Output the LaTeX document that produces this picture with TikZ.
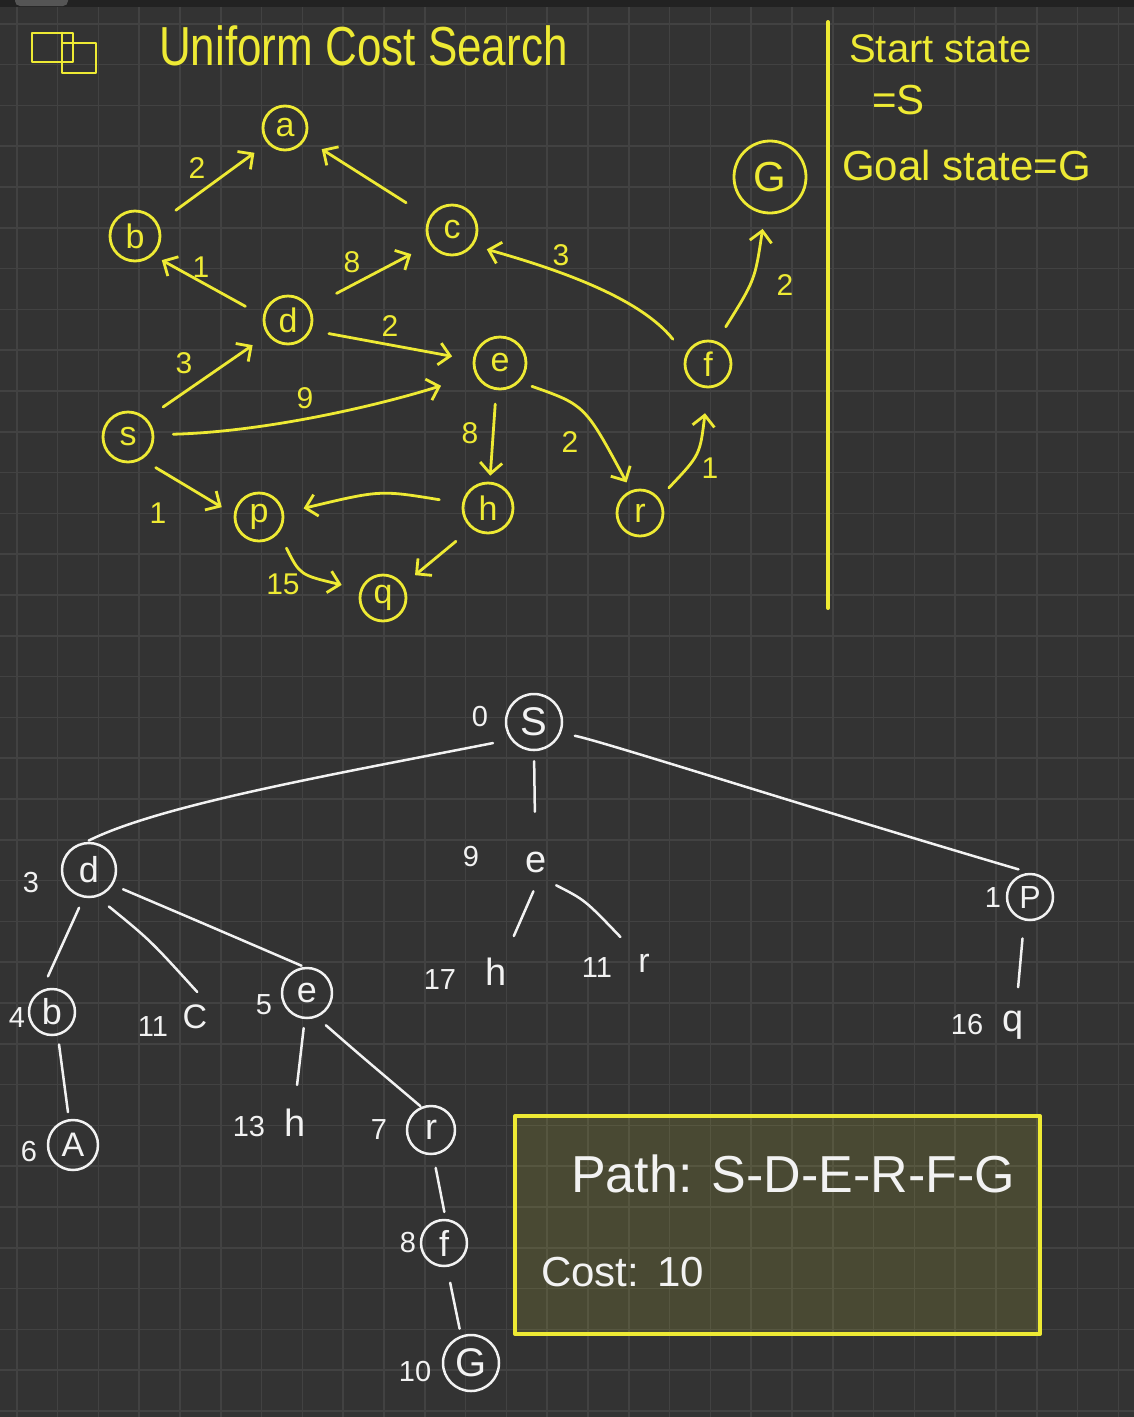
\documentclass[tikz,border=0pt]{standalone}
\usepackage{fontspec}
\setmainfont{Liberation Sans}
\usepackage{graphicx}
\usetikzlibrary{arrows.meta}
\definecolor{bg}{RGB}{51,51,51}
\definecolor{gridc}{RGB}{66,66,66}
\definecolor{yel}{RGB}{238,234,52}
\definecolor{ink}{RGB}{242,242,242}
\definecolor{band}{RGB}{34,34,34}
\definecolor{pill}{RGB}{85,85,85}
\newcommand\fs[1]{\fontsize{#1}{#1}\selectfont}

\begin{document}
\begin{tikzpicture}[x=1pt, y=-1pt, line cap=round, line join=round,
  yc/.style={circle, draw=yel, line width=2.8pt, text=yel, inner sep=0pt, font=\fs{34}},
  ylab/.style={text=yel, inner sep=0pt, font=\fs{30}},
  ytext/.style={text=yel, inner sep=0pt, anchor=base west},
  yedge/.style={draw=yel, line width=2.8pt, -{Straight Barb[length=11pt,width=22pt]}},
  wc/.style={circle, draw=ink, line width=2.5pt, text=ink, inner sep=0pt, font=\fs{36}},
  wplain/.style={circle, minimum size=40pt, text=ink, inner sep=0pt, font=\fs{38}},
  wnum/.style={text=ink, inner sep=0pt, font=\fs{29}},
  wedge/.style={draw=ink, line width=2.5pt},
  wtext/.style={text=ink, inner sep=0pt, anchor=base west},
]
\clip (0,0) rectangle (1134,1417);
\useasboundingbox (0,0) rectangle (1134,1417);

% paper and grid
\fill[bg] (0,0) rectangle (1134,1417);
\foreach \i in {0,...,27}
  \draw[gridc, line width=1.6pt] ({16.7+40.8*\i},0) -- ({16.7+40.8*\i},1417);
\foreach \j in {0,...,34}
  \draw[gridc, line width=1.6pt] (0,{23.7+40.8*\j}) -- (1134,{23.7+40.8*\j});
\fill[band] (0,0) rectangle (1134,7);
\fill[pill, rounded corners=5pt] (15,-8) rectangle (68,6);

% heading
\draw[yel, line width=2.8pt] (32,33) rectangle (73,62);
\draw[yel, line width=2.8pt] (62,43) rectangle (96,73);
\draw[yel, line width=2.8pt] (62,33) -- (62,43);
\node[ytext, font=\fs{55}] (title) at (159,65) {\scalebox{0.8}[1]{Uniform Cost Search}};

% side notes
\draw[yel, line width=4pt] (828,22) -- (828,608);
\node[ytext, font=\fs{40}] (start1) at (849,62) {Start state};
\node[ytext, font=\fs{42}] (start2) at (872,114) {=S};
\node[ytext, font=\fs{42}] (goal) at (842,180) {Goal state=G};

% state graph
\node[yc, minimum size=44pt] (a) at (285,128) {a};
\node[yc, minimum size=50pt] (b) at (135,236) {b};
\node[yc, minimum size=50pt] (c) at (452,230) {c};
\node[yc, minimum size=48pt] (d) at (288,320) {d};
\node[yc, minimum size=52pt] (e) at (500,363) {e};
\node[yc, minimum size=50pt] (s) at (128,437) {s};
\node[yc, minimum size=48pt] (p) at (259,517) {p};
\node[yc, minimum size=50pt] (h) at (488,508) {h};
\node[yc, minimum size=46pt] (q) at (383,598) {q};
\node[yc, minimum size=46pt] (r) at (640,513) {r};
\node[yc, minimum size=46pt] (f) at (708,364) {f};
\node[yc, minimum size=72pt, font=\fs{42}] (G) at (770,177) {G};

\draw[yedge, shorten <=22pt, shorten >=16pt] (b.29) -- (a.221);
\draw[yedge, shorten <=27pt, shorten >=19pt] (c.151) -- (a.332);
\draw[yedge, shorten <=20pt, shorten >=10pt] (d.171) -- (b.313);
\draw[yedge, shorten <=30pt, shorten >=21pt] (d.30) -- (c.213);
\draw[yedge, shorten <=20pt, shorten >=14pt] (f.158) .. controls (640,298) and (560,270) .. (c.324);
\draw[yedge, shorten <=18pt, shorten >=21pt] (d.336) -- (e.174);
\draw[yedge, shorten <=20pt, shorten >=18pt] (s.45) -- (d.216);
\draw[yedge, shorten <=19pt, shorten >=36pt] (s.5) .. controls (260,432) and (370,408) .. (e.206);
\draw[yedge, shorten <=16pt, shorten >=14pt] (s.302) -- (p.174);
\draw[yedge, shorten <=14pt, shorten >=6pt] (e.262) -- (h.86);
\draw[yedge, shorten <=13pt, shorten >=9pt] (e.316) .. controls (585,405) .. (r.112);
\draw[yedge, shorten <=14pt, shorten >=25pt] (r.38) .. controls (700,455) .. (f.270);
\draw[yedge, shorten <=17pt, shorten >=15pt] (f.69) .. controls (755,280) .. (G.262);
\draw[yedge, shorten <=23pt, shorten >=20pt] (h.170) .. controls (380,490) .. (p.9);
\draw[yedge, shorten <=17pt, shorten >=19pt] (p.321) .. controls (300,575) .. (q.159);
\draw[yedge, shorten <=20pt, shorten >=15pt] (h.231) -- (q.33);

\node[ylab] (wba) at (197,168) {2};
\node[ylab] (wdb) at (201,267) {1};
\node[ylab] (wdc) at (352,262) {8};
\node[ylab] (wfc) at (561,255) {3};
\node[ylab] (wde) at (390,326) {2};
\node[ylab] (wsd) at (184,363) {3};
\node[ylab] (wse) at (305,398) {9};
\node[ylab] (wsp) at (158,513) {1};
\node[ylab] (weh) at (470,433) {8};
\node[ylab] (wer) at (570,442) {2};
\node[ylab] (wrf) at (710,468) {1};
\node[ylab] (wfg) at (785,285) {2};
\node[ylab] (wpq) at (283,584) {15};

% search tree
\node[wc, minimum size=56pt, font=\fs{40}] (S0) at (534,722) {S};
\node[wnum] (k0) at (480,717) {0};
\node[wc, minimum size=54pt] (d1) at (89,870) {d};
\node[wnum] (k3) at (31,883) {3};
\node[wplain] (e1) at (536,862) {e};
\node[wnum] (k9) at (471,857) {9};
\node[wc, minimum size=46pt, font=\fs{32}] (P1) at (1030,897) {P};
\node[wnum] (k1) at (993,898) {1};
\node[wc, minimum size=46pt] (b2) at (52,1012) {b};
\node[wnum] (k4) at (17,1018) {4};
\node[wplain, font=\fs{34}] (c2) at (195,1017) {C};
\node[wnum] (k11a) at (153,1027) {11};
\node[wc, minimum size=50pt] (e2) at (307,993) {e};
\node[wnum] (k5) at (264,1005) {5};
\node[wplain] (h2) at (496,972) {h};
\node[wnum] (k17) at (440,980) {17};
\node[wplain, font=\fs{34}] (r2) at (644,963) {r};
\node[wnum] (k11b) at (597,968) {11};
\node[wplain] (q2) at (1013,1025) {q};
\node[wnum] (k16) at (967,1025) {16};
\node[wc, minimum size=50pt, font=\fs{34}] (A3) at (73,1145) {A};
\node[wnum] (k6) at (29,1152) {6};
\node[wplain] (h3) at (295,1123) {h};
\node[wnum] (k13) at (249,1127) {13};
\node[wc, minimum size=48pt] (r3) at (431,1130) {r};
\node[wnum] (k7) at (379,1130) {7};
\node[wc, minimum size=46pt] (f4) at (444,1243) {f};
\node[wnum] (k8) at (408,1243) {8};
\node[wc, minimum size=56pt, font=\fs{40}] (G5) at (471,1363) {G};
\node[wnum] (k10) at (415,1371) {10};

\draw[wedge, shorten <=18pt, shorten >=3pt] (S0.217) .. controls (330,775) and (160,805) .. (d1.96);
\draw[wedge, shorten <=10pt, shorten >=30pt] (S0.270) -- (e1.92);
\draw[wedge, shorten <=14pt, shorten >=12pt] (S0.338) .. controls (605,742) and (800,805) .. (P1.90);
\draw[wedge, shorten <=11pt, shorten >=15pt] (d1.259) -- (b2.115);
\draw[wedge, shorten <=15pt, shorten >=9pt] (d1.287) .. controls (150,940) .. (c2.66);
\draw[wedge, shorten <=11pt, shorten >=3pt] (d1.328) .. controls (200,922) .. (e2.96);
\draw[wedge, shorten <=9pt, shorten >=7pt] (b2.284) -- (A3.99);
\draw[wedge, shorten <=9pt, shorten >=18pt] (e2.265) -- (h3.90);
\draw[wedge, shorten <=12pt, shorten >=1pt] (e2.292) .. controls (360,1055) .. (r3.113);
\draw[wedge, shorten <=10pt, shorten >=20pt] (e1.274) -- (h2.61);
\draw[wedge, shorten <=12pt, shorten >=15pt] (e1.298) .. controls (585,900) .. (r2.131);
\draw[wedge, shorten <=18pt, shorten >=18pt] (P1.256) -- (q2.80);
\draw[wedge, shorten <=13pt, shorten >=7pt] (r3.275) -- (f4.86);
\draw[wedge, shorten <=16pt, shorten >=7pt] (f4.277) -- (G5.110);

% result
\draw[yel, line width=4pt, fill=yel, fill opacity=0.12] (515,1116) rectangle (1040,1334);
\node[wtext, font=\fs{52}] (path) at (571,1192) {Path: S-D-E-R-F-G};
\node[wtext, font=\fs{42}] (cost) at (541,1286) {Cost:\hspace{18pt}10};
\end{tikzpicture}
\end{document}
